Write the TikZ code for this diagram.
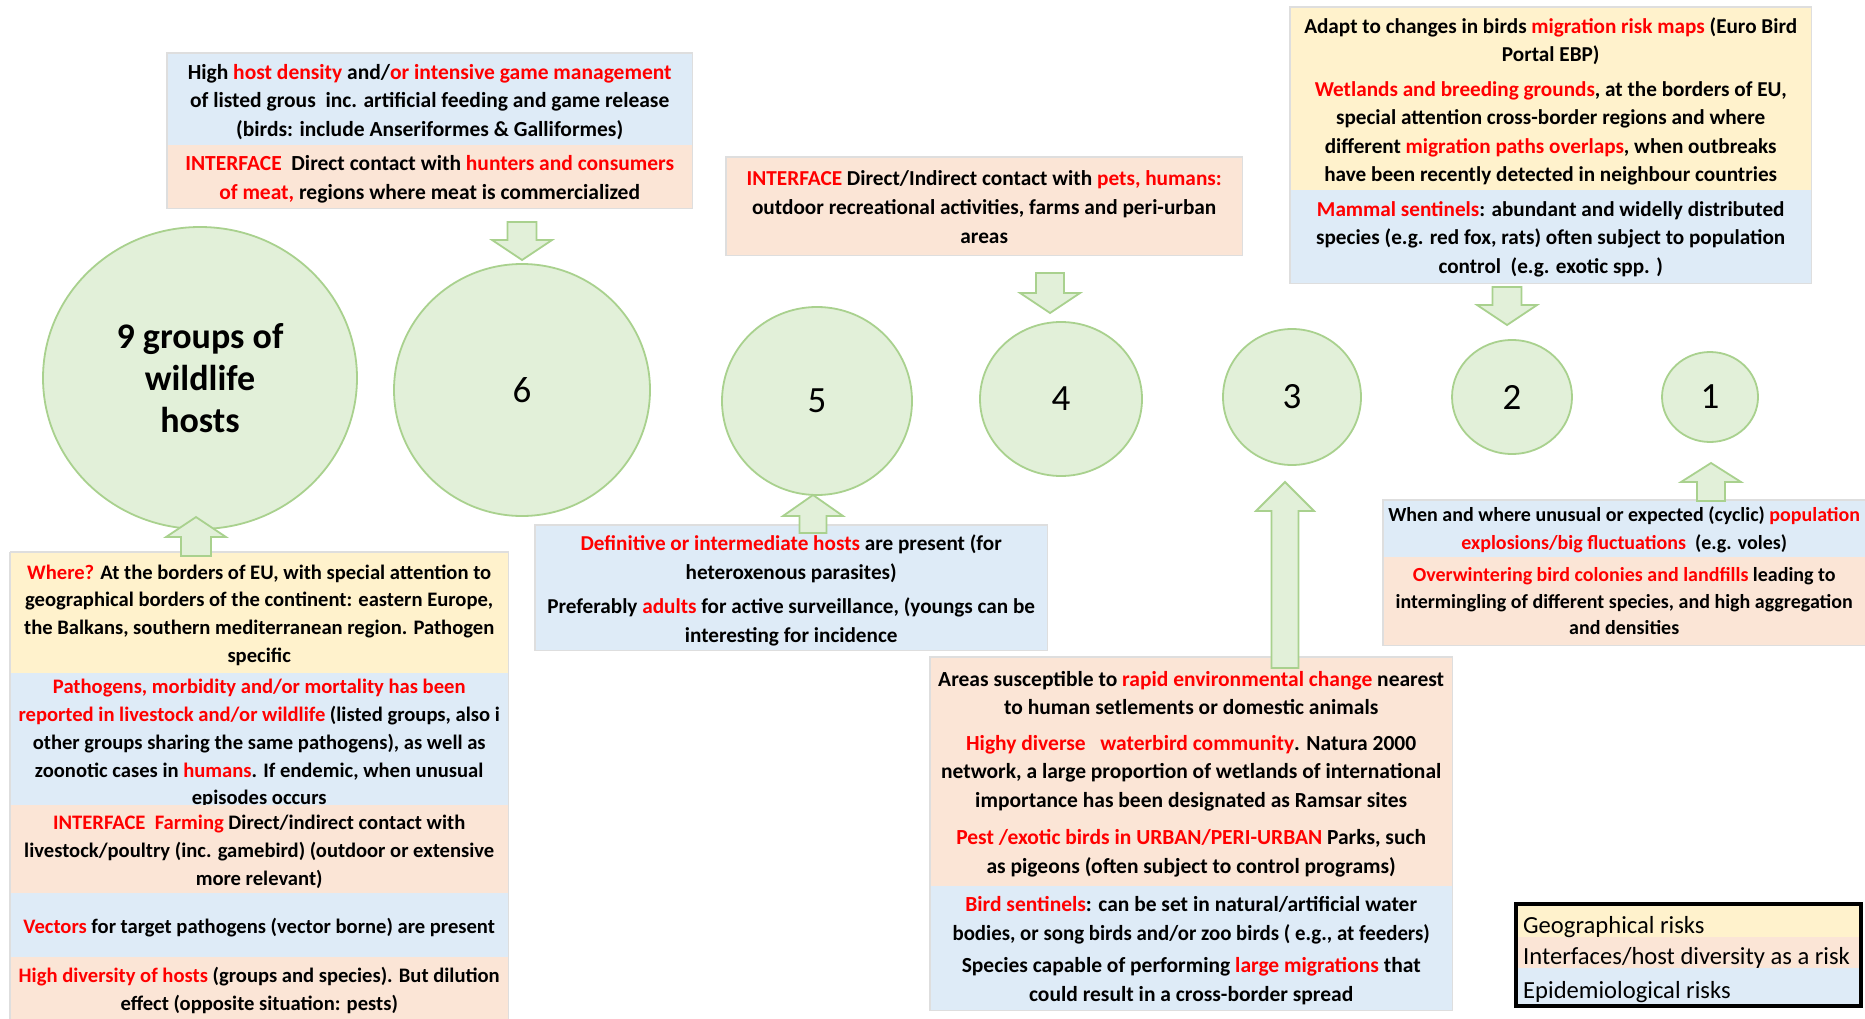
\documentclass[tikz,border=0pt]{standalone}
\usepackage{fontspec}
\usepackage{graphicx}
\setmainfont{Carlito}
\usetikzlibrary{shapes.geometric}
\definecolor{cyel}{HTML}{FFF2CC}
\definecolor{cpea}{HTML}{FBE5D6}
\definecolor{cblu}{HTML}{DEEBF7}
\definecolor{cgfill}{HTML}{E2F0D9}
\definecolor{cgline}{HTML}{A9D18E}
\definecolor{cred}{HTML}{FF0000}
\newcommand\rd[1]{\textcolor{cred}{#1}}
\newcommand\bsz[2]{\bfseries\fontsize{#1}{#2}\selectfont}
\newcommand\blkarrow[6]{\draw[blockarr] (#1-#5,#2) -- (#1+#5,#2) -- (#1+#5,#3) -- (#1+#6,#3) -- (#1,#4) -- (#1-#6,#3) -- (#1-#5,#3) -- cycle;}
\tikzset{
  bandfill/.style={rectangle, anchor=north west, inner sep=0pt, draw=none},
  txt/.style={inner sep=0pt, align=center, yshift=-2.5pt, font=\bsz{21.5}{28.5}},
  hostell/.style={ellipse, draw=cgline, fill=cgfill, line width=1.8pt, inner sep=0pt, font=\fontsize{37}{42}\selectfont},
  blockarr/.style={draw=cgline, fill=cgfill, line width=1.8pt, line join=miter},
  boxedge/.style={draw=black!13, line width=1.2pt},
  legtxt/.style={inner sep=0pt, anchor=west, yshift=-5.5pt, font=\fontsize{24.6}{28}\selectfont},
}
\begin{document}
\begin{tikzpicture}[x=1pt,y=-1pt]
\useasboundingbox[fill=white] (0,0) rectangle (1865,1019);

% ---------- circles ----------
\node[hostell, minimum width=314pt, minimum height=302pt, align=center, font=\bsz{36}{42}] (c9) at (200,378) {9 groups of\\wildlife\\hosts};
\node[hostell, minimum width=256pt, minimum height=252pt] (c6) at (522,390) {6};
\node[hostell, minimum width=190pt, minimum height=188pt] (c5) at (817,401) {5};
\node[hostell, minimum width=162pt, minimum height=154pt] (c4) at (1061,399) {4};
\node[hostell, minimum width=138pt, minimum height=136pt] (c3) at (1292,397) {3};
\node[hostell, minimum width=120pt, minimum height=114pt] (c2) at (1512,397) {2};
\node[hostell, minimum width=96pt, minimum height=90pt] (c1) at (1710,397) {1};

% ---------- box 6 ----------
\node[bandfill, fill=cblu, minimum width=525pt, minimum height=92pt] (b6a) at (167,53) {};
\node[txt] (t6a) at (b6a.center) {High \rd{host density} and/\rd{or intensive game management}\\
of listed grous\ \ inc. artificial feeding and game release\\
(birds: include Anseriformes \& Galliformes)};
\node[bandfill, fill=cpea, minimum width=525pt, minimum height=63pt] (b6b) at (167,145) {};
\node[txt] (t6b) at (b6b.center) {\rd{INTERFACE}\ \ Direct contact with \rd{hunters and consumers}\\
\rd{of meat,} regions where meat is commercialized};
\draw[boxedge] (b6a.north west) rectangle (b6b.south east);

% ---------- box 4 ----------
\node[bandfill, fill=cpea, minimum width=516pt, minimum height=98pt] (b4a) at (726,157) {};
\node[txt, yshift=2pt, font=\bsz{21.3}{29}] (t4a) at (b4a.center) {\rd{INTERFACE} Direct/Indirect contact with \rd{pets, humans:}\\
outdoor recreational activities, farms and peri-urban\\
areas};
\draw[boxedge] (b4a.north west) rectangle (b4a.south east);

% ---------- box 2 ----------
\node[bandfill, fill=cyel, minimum width=521pt, minimum height=183pt] (b2a) at (1290,7) {};
\node[txt, font=\bsz{21.2}{28.5}] (t2a) at (b2a.center) {Adapt to changes in birds \rd{migration risk maps} (Euro Bird\\
Portal EBP)\\[6pt]
\rd{Wetlands and breeding grounds}, at the borders of EU,\\
special attention cross-border regions and where\\
different \rd{migration paths overlaps}, when outbreaks\\
have been recently detected in neighbour countries};
\node[bandfill, fill=cblu, minimum width=521pt, minimum height=93pt] (b2b) at (1290,190) {};
\node[txt, font=\bsz{21.2}{28.5}] (t2b) at (b2b.center) {\rd{Mammal sentinels}: abundant and widelly distributed\\
species (e.g. red fox, rats) often subject to population\\
control\ \ (e.g. exotic spp. )};
\draw[boxedge] (b2a.north west) rectangle (b2b.south east);

% ---------- box 1 ----------
\node[bandfill, fill=cblu, minimum width=482pt, minimum height=57pt] (b1a) at (1383,500) {};
\node[txt, yshift=1pt, font=\bsz{20}{28}] (t1a) at (b1a.center) {When and where unusual or expected (cyclic) \rd{population}\\
\rd{explosions/big fluctuations}\ \ (e.g. voles)};
\node[bandfill, fill=cpea, minimum width=482pt, minimum height=88pt] (b1b) at (1383,557) {};
\node[txt, yshift=2.5pt, font=\bsz{20}{26.5}] (t1b) at (b1b.center) {\rd{Overwintering bird colonies and landfills} leading to\\
intermingling of different species, and high aggregation\\
and densities};
\draw[boxedge] (b1a.north west) rectangle (b1b.south east);

% ---------- box 5 ----------
\node[bandfill, fill=cblu, minimum width=512pt, minimum height=125pt] (b5a) at (535,525) {};
\node[txt, font=\bsz{21.2}{28.5}] (t5a) at (b5a.center) {\rd{Definitive or intermediate hosts} are present (for\\
heteroxenous parasites)\\[6pt]
Preferably \rd{adults} for active surveillance, (youngs can be\\
interesting for incidence};
\draw[boxedge] (b5a.north west) rectangle (b5a.south east);

% ---------- box 3 ----------
\node[bandfill, fill=cpea, minimum width=522pt, minimum height=229pt] (b3a) at (930,657) {};
\node[txt] (t3a) at (b3a.center) {Areas susceptible to \rd{rapid environmental change} nearest\\
to human setlements or domestic animals\\[7pt]
\rd{Highy diverse\ \ \ waterbird community}. Natura 2000\\
network, a large proportion of wetlands of international\\
importance has been designated as Ramsar sites\\[9pt]
\rd{Pest /exotic birds in URBAN/PERI-URBAN} Parks, such\\
as pigeons (often subject to control programs)};
\node[bandfill, fill=cblu, minimum width=522pt, minimum height=124pt] (b3b) at (930,886) {};
\node[txt, font=\bsz{21.5}{29.5}] (t3b) at (b3b.center) {\rd{Bird sentinels}: can be set in natural/artificial water\\
\scalebox{0.97}[1]{bodies, or song birds and/or zoo birds ( e.g., at feeders)}\\[2pt]
Species capable of performing \rd{large migrations} that\\
could result in a cross-border spread};
\draw[boxedge] (b3a.north west) rectangle (b3b.south east);

% ---------- box 9 ----------
\node[bandfill, fill=cyel, minimum width=498pt, minimum height=121pt] (b9a) at (10,552) {};
\node[txt, font=\bsz{20.6}{27.7}] (t9a) at (b9a.center) {\rd{Where?} At the borders of EU, with special attention to\\
geographical borders of the continent: eastern Europe,\\
the Balkans, southern mediterranean region. Pathogen\\
specific};
\node[bandfill, fill=cblu, minimum width=498pt, minimum height=132pt] (b9b) at (10,673) {};
\node[txt, yshift=-2pt, font=\bsz{20.6}{27.8}] (t9b) at (b9b.center) {\rd{Pathogens, morbidity and/or mortality has been}\\
\rd{reported in livestock and/or wildlife} (listed groups, also i\\
other groups sharing the same pathogens), as well as\\
zoonotic cases in \rd{humans}. If endemic, when unusual\\
episodes occurs};
\node[bandfill, fill=cpea, minimum width=498pt, minimum height=88pt] (b9c) at (10,805) {};
\node[txt, font=\bsz{20.6}{28}] (t9c) at (b9c.center) {\rd{INTERFACE\ \ Farming} Direct/indirect contact with\\
livestock/poultry (inc. gamebird) (outdoor or extensive\\
more relevant)};
\node[bandfill, fill=cblu, minimum width=498pt, minimum height=64pt] (b9d) at (10,893) {};
\node[txt, font=\bsz{20.6}{28}] (t9d) at (b9d.center) {\rd{Vectors} for target pathogens (vector borne) are present};
\node[bandfill, fill=cpea, minimum width=498pt, minimum height=62pt] (b9e) at (10,957) {};
\node[txt, font=\bsz{20.6}{27.5}] (t9e) at (b9e.center) {\rd{High diversity of hosts} (groups and species). But dilution\\
effect (opposite situation: pests)};
\draw[boxedge] (b9a.north west) -- (b9a.north east) -- (b9e.south east);
\draw[boxedge] (b9a.north west) -- (b9e.south west);

% ---------- block arrows ----------
\blkarrow{522}{222}{240}{260}{14.5}{30}
\blkarrow{1050}{273}{293}{313}{14}{30}
\blkarrow{1507}{287}{305}{325}{14.5}{30}
\blkarrow{1711}{501}{482}{463}{14}{30}
\blkarrow{813}{533}{516}{495}{13.5}{30}
\blkarrow{1285}{668}{511}{482}{13.5}{29}
\blkarrow{196}{556}{537}{517}{15}{30}

% ---------- legend ----------
\node[bandfill, fill=cyel, minimum width=341pt, minimum height=31pt] (lg1) at (1518,906) {};
\node[bandfill, fill=cpea, minimum width=341pt, minimum height=31pt] (lg2) at (1518,937) {};
\node[bandfill, fill=cblu, minimum width=341pt, minimum height=36pt] (lg3) at (1518,968) {};
\node[legtxt] (lt1) at ([xshift=5pt]lg1.west) {Geographical risks};
\node[legtxt] (lt2) at ([xshift=5pt]lg2.west) {Interfaces/host diversity as a risk};
\node[legtxt] (lt3) at ([xshift=5pt]lg3.west) {Epidemiological risks};
\draw[black, line width=4pt] (1516,904) rectangle (1861,1006);
\end{tikzpicture}
\end{document}
